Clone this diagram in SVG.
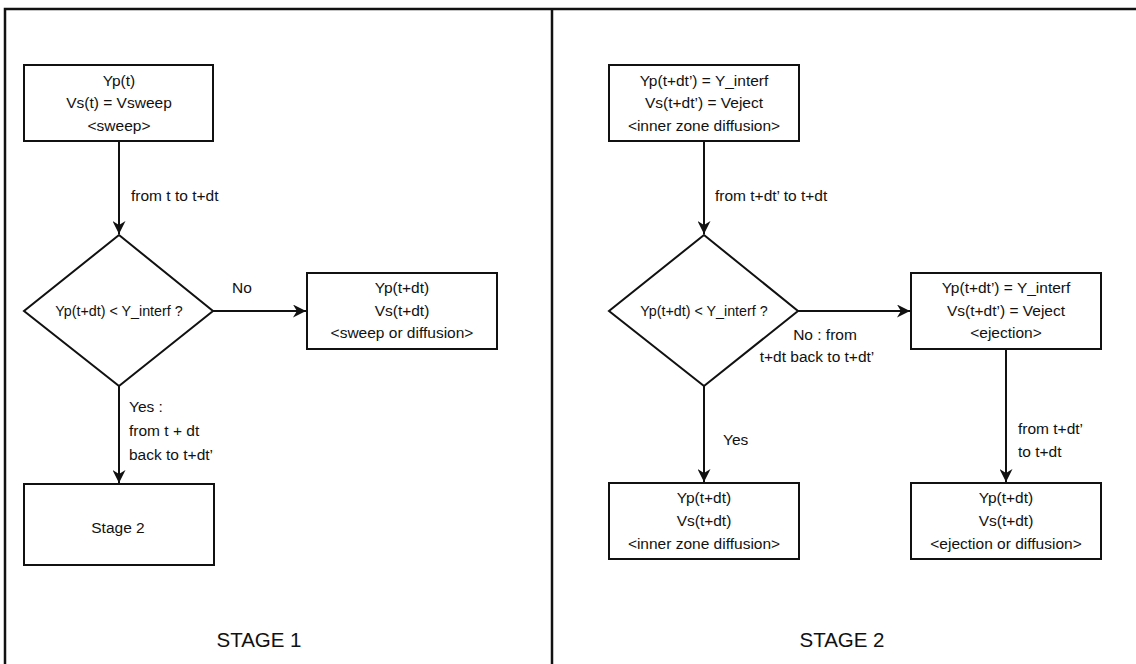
<svg xmlns="http://www.w3.org/2000/svg" width="1136" height="664" viewBox="0 0 1136 664">
<style>
.frame{fill:none;stroke:#111;stroke-width:2.5}
.node{fill:#fff;stroke:#111;stroke-width:2}
.edge{fill:none;stroke:#111;stroke-width:2}
text{font-family:"Liberation Sans",Arial,sans-serif;font-size:15.5px;fill:#111}
.c{text-anchor:middle}
.d{font-size:14.3px}
.big{font-size:20.5px}
</style>
<defs>
<marker id="arr" viewBox="0 0 10 10" refX="10" refY="5" markerWidth="6.5" markerHeight="6.5" orient="auto" markerUnits="strokeWidth">
<path d="M0,0 L10,5 L0,10 L3,5 z" fill="#111"/>
</marker>
</defs>
<rect width="1136" height="664" fill="#fff"/>
<g id="frame">
<path class="frame" d="M5,664 V9 H1136 M552,9 V664"/>
</g>
<g id="connectors">
<path class="edge" d="M119,141 V234" marker-end="url(#arr)"/>
<path class="edge" d="M213,311 H306" marker-end="url(#arr)"/>
<path class="edge" d="M119,386 V483" marker-end="url(#arr)"/>
<path class="edge" d="M704,141 V234" marker-end="url(#arr)"/>
<path class="edge" d="M798,311 H910" marker-end="url(#arr)"/>
<path class="edge" d="M704,386 V482" marker-end="url(#arr)"/>
<path class="edge" d="M1006,349 V482" marker-end="url(#arr)"/>
</g>
<g id="labels">
<text x="131" y="201">from t to t+dt</text>
<text x="242" y="293" class="c">No</text>
<text x="129" y="412">Yes :</text>
<text x="129" y="436">from t + dt</text>
<text x="129" y="460">back to t+dt’</text>
<text x="715" y="201">from t+dt’ to t+dt</text>
<text x="825" y="340" class="c">No : from</text>
<text x="817" y="362" class="c">t+dt back to t+dt’</text>
<text x="723" y="445">Yes</text>
<text x="1018" y="434">from t+dt’</text>
<text x="1018" y="457">to t+dt</text>
</g>
<g id="s1-start">
<rect class="node" x="24" y="65" width="189" height="76"/>
<text x="119" y="86" class="c">Yp(t)</text>
<text x="119" y="108" class="c">Vs(t) = Vsweep</text>
<text x="119" y="131" class="c">&lt;sweep&gt;</text>
</g>
<g id="s1-decision">
<polygon class="node" points="119,235 213,311 119,386 24,311"/>
<text x="119" y="316" class="c d">Yp(t+dt) &lt; Y_interf ?</text>
</g>
<g id="s1-no">
<rect class="node" x="307" y="273" width="190" height="76"/>
<text x="402" y="293" class="c">Yp(t+dt)</text>
<text x="402" y="316" class="c">Vs(t+dt)</text>
<text x="402" y="338" class="c">&lt;sweep or diffusion&gt;</text>
</g>
<g id="s1-stage2">
<rect class="node" x="24" y="484" width="190" height="81"/>
<text x="118" y="533" class="c">Stage 2</text>
</g>
<g id="s1-title">
<text x="259" y="647" class="c big">STAGE 1</text>
</g>
<g id="s2-start">
<rect class="node" x="609" y="65" width="190" height="76"/>
<text x="704" y="86" class="c">Yp(t+dt’) = Y_interf</text>
<text x="704" y="108" class="c">Vs(t+dt’) = Veject</text>
<text x="704" y="131" class="c">&lt;inner zone diffusion&gt;</text>
</g>
<g id="s2-decision">
<polygon class="node" points="704,235 798,311 704,386 609,311"/>
<text x="704" y="316" class="c d">Yp(t+dt) &lt; Y_interf ?</text>
</g>
<g id="s2-eject">
<rect class="node" x="911" y="273" width="190" height="76"/>
<text x="1006" y="293" class="c">Yp(t+dt’) = Y_interf</text>
<text x="1006" y="316" class="c">Vs(t+dt’) = Veject</text>
<text x="1006" y="338" class="c">&lt;ejection&gt;</text>
</g>
<g id="s2-yes">
<rect class="node" x="609" y="483" width="190" height="76"/>
<text x="704" y="503" class="c">Yp(t+dt)</text>
<text x="704" y="526" class="c">Vs(t+dt)</text>
<text x="704" y="549" class="c">&lt;inner zone diffusion&gt;</text>
</g>
<g id="s2-end">
<rect class="node" x="911" y="483" width="190" height="76"/>
<text x="1006" y="503" class="c">Yp(t+dt)</text>
<text x="1006" y="526" class="c">Vs(t+dt)</text>
<text x="1006" y="549" class="c">&lt;ejection or diffusion&gt;</text>
</g>
<g id="s2-title">
<text x="842" y="647" class="c big">STAGE 2</text>
</g>
</svg>
